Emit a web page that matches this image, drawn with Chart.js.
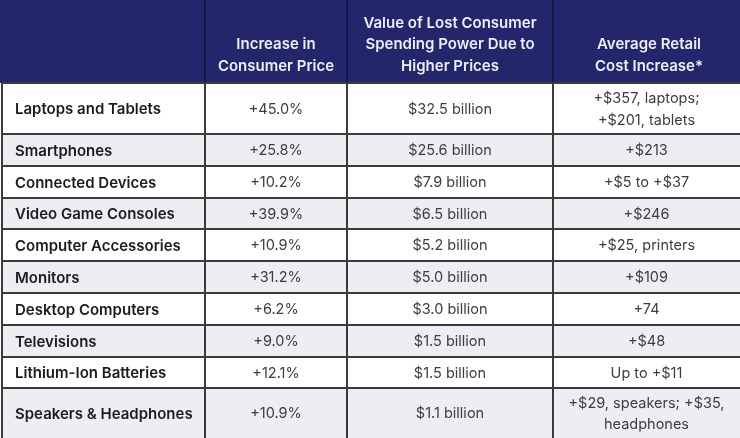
<!DOCTYPE html>
<html>
<head>
<meta charset="utf-8">
<script src="https://cdn.jsdelivr.net/npm/chart.js@4.4.0/dist/chart.umd.min.js"></script>
<style>
  html, body { margin: 0; padding: 0; background: #ffffff; }
  #wrap { width: 740px; height: 438px; overflow: hidden; }
</style>
</head>
<body>
<div id="wrap"><canvas id="table" width="740" height="438"></canvas></div>
<script>
// table data
const headers = [
  [],
  ["Increase in", "Consumer Price"],
  ["Value of Lost Consumer", "Spending Power Due to", "Higher Prices"],
  ["Average Retail", "Cost Increase*"]
];
const categories = [
  "Laptops and Tablets", "Smartphones", "Connected Devices", "Video Game Consoles",
  "Computer Accessories", "Monitors", "Desktop Computers", "Televisions",
  "Lithium-Ion Batteries", "Speakers & Headphones"
];
const priceIncrease = ["+45.0%", "+25.8%", "+10.2%", "+39.9%", "+10.9%", "+31.2%", "+6.2%", "+9.0%", "+12.1%", "+10.9%"];
const lostSpending = ["$32.5 billion", "$25.6 billion", "$7.9 billion", "$6.5 billion", "$5.2 billion",
  "$5.0 billion", "$3.0 billion", "$1.5 billion", "$1.5 billion", "$1.1 billion"];
const retailCost = [
  ["+$357, laptops;", "+$201, tablets"], ["+$213"], ["+$5 to +$37"], ["+$246"], ["+$25, printers"],
  ["+$109"], ["+74"], ["+$48"], ["Up to +$11"], ["+$29, speakers; +$35,", "headphones"]
];

// layout (in scale units)
const colEdges = [2, 205, 347, 553, 745];
const rowEdges = [0, 83, 134, 166, 198, 229, 261, 293, 325, 357, 388, 444];

const FONT = "Inter, 'Open Sans', sans-serif";

const tablePlugin = {
  id: 'tableCells',
  beforeDraw(chart) {
    const ctx = chart.ctx;
    const xs = chart.scales.x, ys = chart.scales.y;
    const X = v => xs.getPixelForValue(v);
    const Y = v => ys.getPixelForValue(v);

    ctx.save();
    // row backgrounds
    ctx.fillStyle = '#23266a';
    ctx.fillRect(X(0), Y(rowEdges[0]), X(745) - X(0), Y(rowEdges[1]) - Y(rowEdges[0]));
    for (let r = 0; r < categories.length; r++) {
      ctx.fillStyle = r % 2 === 0 ? '#ffffff' : '#eceef2';
      ctx.fillRect(X(colEdges[0]), Y(rowEdges[r + 1]), X(745) - X(colEdges[0]), Y(rowEdges[r + 2]) - Y(rowEdges[r + 1]));
    }

    // header grid lines
    ctx.strokeStyle = '#151847';
    ctx.lineWidth = 2;
    for (let c = 1; c < colEdges.length - 1; c++) {
      ctx.beginPath();
      ctx.moveTo(X(colEdges[c]), Y(0));
      ctx.lineTo(X(colEdges[c]), Y(rowEdges[1]));
      ctx.stroke();
    }

    // body grid lines
    ctx.strokeStyle = '#3b3b3d';
    for (let c = 0; c < colEdges.length - 1; c++) {
      ctx.beginPath();
      ctx.moveTo(X(colEdges[c]), Y(rowEdges[1]));
      ctx.lineTo(X(colEdges[c]), Y(rowEdges[rowEdges.length - 1]));
      ctx.stroke();
    }
    for (let r = 1; r < rowEdges.length - 1; r++) {
      ctx.beginPath();
      ctx.moveTo(X(colEdges[0]), Y(rowEdges[r]));
      ctx.lineTo(X(745), Y(rowEdges[r]));
      ctx.stroke();
    }

    // header text
    const lineH = 21.5;
    ctx.textAlign = 'center';
    ctx.textBaseline = 'middle';
    ctx.font = "600 15px " + FONT;
    ctx.fillStyle = '#eceef6';
    headers.forEach((lines, c) => {
      const cx = X((colEdges[c] + colEdges[c + 1]) / 2);
      const bottom = Y(rowEdges[1]) - 17;
      lines.forEach((t, i) => {
        ctx.fillText(t, cx, bottom - (lines.length - 1 - i) * lineH);
      });
    });

    // body text
    for (let r = 0; r < categories.length; r++) {
      const cy = (Y(rowEdges[r + 1]) + Y(rowEdges[r + 2])) / 2;
      const rowCy = r === categories.length - 1 ? cy - 2 : cy + 1;
      ctx.font = "600 15px " + FONT;
      ctx.fillStyle = '#1c1c1e';
      ctx.textAlign = 'left';
      ctx.fillText(categories[r], X(colEdges[0]) + 13, rowCy);

      ctx.font = "400 14.5px " + FONT;
      ctx.fillStyle = '#3d3d40';
      ctx.textAlign = 'center';
      ctx.fillText(priceIncrease[r], X((colEdges[1] + colEdges[2]) / 2), rowCy);
      ctx.fillText(lostSpending[r], X((colEdges[2] + colEdges[3]) / 2), rowCy);
      const lines = retailCost[r];
      const cx4 = X((colEdges[3] + colEdges[4] - 5) / 2);
      lines.forEach((t, i) => {
        ctx.fillText(t, cx4, rowCy + (i - (lines.length - 1) / 2) * 21.5);
      });
    }
    ctx.restore();
  }
};

new Chart(document.getElementById('table'), {
  type: 'scatter',
  data: { datasets: [{ data: [], pointRadius: 0 }] },
  options: {
    responsive: false,
    animation: false,
    layout: { padding: 0 },
    plugins: { legend: { display: false }, tooltip: { enabled: false } },
    scales: {
      x: { type: 'linear', min: 0, max: 740, display: false },
      y: { type: 'linear', min: 0, max: 438, reverse: true, display: false }
    }
  },
  plugins: [tablePlugin]
});
</script>
</body>
</html>
